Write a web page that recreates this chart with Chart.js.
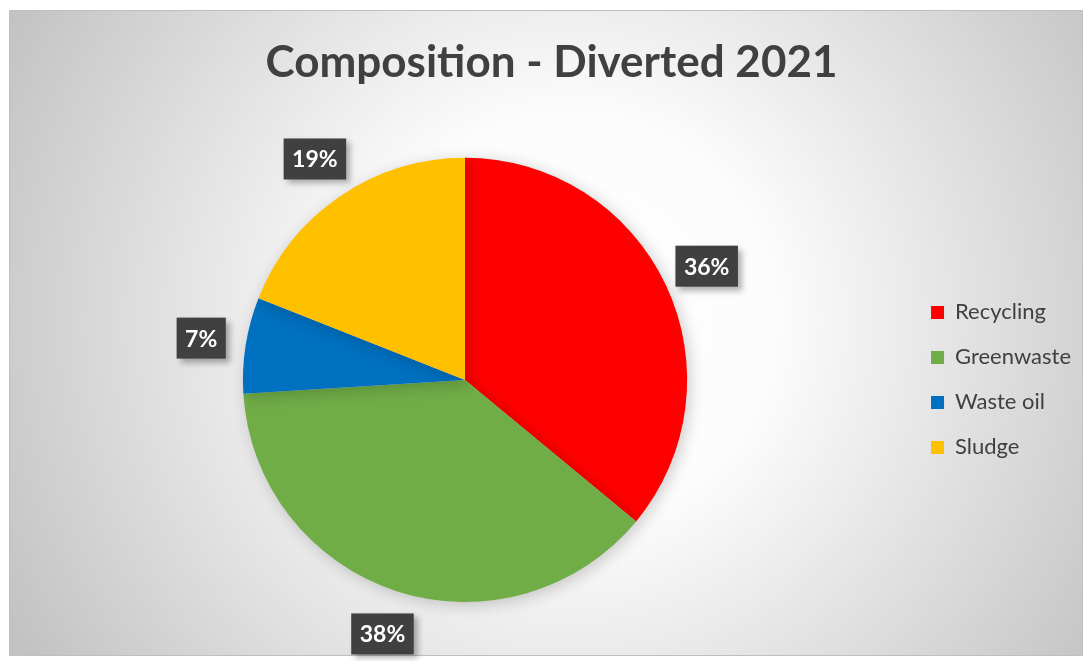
<!DOCTYPE html>
<html>
<head>
<meta charset="utf-8">
<script src="https://cdn.jsdelivr.net/npm/chart.js@4"></script>
<style>
  html, body { margin: 0; padding: 0; background: #fff; }
  #wrap { position: relative; width: 1088px; height: 661px; }
</style>
</head>
<body>
<div id="wrap"><canvas id="pie"></canvas></div>
<script>
// data
const categories = ['Recycling', 'Greenwaste', 'Waste oil', 'Sludge'];
const shares = [36, 38, 7, 19];
const sliceColors = ['#FF0000', '#70AD47', '#0070C0', '#FFC000'];

const FONT = 'Lato, "Open Sans", sans-serif';

// gradient panel behind everything
const panelBg = {
	id: 'panelBg',
	beforeDraw(chart) {
		const c = chart.ctx;
		const x0 = 9, y0 = 10, x1 = 1083, y1 = 656;
		const g = c.createRadialGradient(570, 320, 0, 570, 320, 640);
		g.addColorStop(0, '#ffffff');
		g.addColorStop(0.32, '#fcfcfc');
		g.addColorStop(1, '#c2c2c2');
		c.save();
		c.fillStyle = g;
		c.fillRect(x0, y0, x1 - x0, y1 - y0);
		c.strokeStyle = '#bfbfbf';
		c.lineWidth = 1;
		c.strokeRect(x0 + 0.5, y0 + 0.5, x1 - x0 - 1, y1 - y0 - 1);
		c.restore();
	}
};

// soft shadow under the pie
const pieShadow = {
	id: 'pieShadow',
	beforeDatasetsDraw(chart) {
		const c = chart.ctx;
		c.save();
		c.shadowColor = 'rgba(0,0,0,0.2)';
		c.shadowBlur = 16;
		c.shadowOffsetX = 3;
		c.shadowOffsetY = 3;
	},
	afterDatasetsDraw(chart) {
		chart.ctx.restore();
	}
};

// dark label boxes outside each slice
const sliceLabels = {
	id: 'sliceLabels',
	afterDatasetsDraw(chart) {
		const c = chart.ctx;
		const meta = chart.getDatasetMeta(0);
		c.save();
		c.font = 'bold 23px ' + FONT;
		c.textAlign = 'center';
		c.textBaseline = 'middle';
		meta.data.forEach((arc, i) => {
			const p = arc.getProps(['x', 'y', 'startAngle', 'endAngle', 'outerRadius'], true);
			const mid = (p.startAngle + p.endAngle) / 2;
			const d = p.outerRadius + 45;
			const cx = p.x + Math.cos(mid) * d;
			const cy = p.y + Math.sin(mid) * d;
			const txt = shares[i] + '%';
			const w = c.measureText(txt).width + 17;
			const h = 41;
			c.save();
			c.shadowColor = 'rgba(0,0,0,0.3)';
			c.shadowBlur = 6;
			c.shadowOffsetX = 4;
			c.shadowOffsetY = 4;
			c.fillStyle = '#404040';
			c.fillRect(cx - w / 2, cy - h / 2, w, h);
			c.restore();
			c.fillStyle = '#ffffff';
			c.fillText(txt, cx, cy + 1);
		});
		c.restore();
	}
};

const ctx = document.querySelector('#pie').getContext('2d');
ctx.canvas.parentNode.style.width = '1088px';
ctx.canvas.parentNode.style.height = '661px';

const chart = new Chart(ctx, {
	type: 'pie',
	data: {
		labels: categories,
		datasets: [{
			data: shares,
			backgroundColor: sliceColors,
			borderWidth: 0
		}]
	},
	options: {
		responsive: true,
		maintainAspectRatio: false,
		animation: false,
		layout: { padding: { left: 22, right: 7, top: 0, bottom: 59 } },
		plugins: {
			title: {
				display: true,
				text: 'Composition - Diverted 2021',
				color: '#404040',
				font: { family: FONT, size: 44, weight: 'bold' },
				padding: { top: 36, bottom: 69 }
			},
			legend: {
				position: 'right',
				fullSize: false,
				labels: {
					color: '#404040',
					font: { family: FONT, size: 22 },
					boxWidth: 13,
					boxHeight: 13,
					padding: 23
				}
			},
			tooltip: { enabled: false }
		}
	},
	plugins: [panelBg, pieShadow, sliceLabels]
});
</script>
</body>
</html>
